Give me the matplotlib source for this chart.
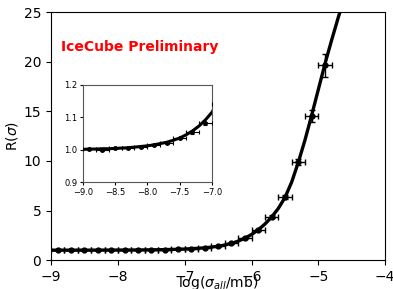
import matplotlib
matplotlib.use("Agg")
import matplotlib.pyplot as plt

# measured points
data_x = [-8.9, -8.7, -8.5, -8.3, -8.1, -7.9, -7.7, -7.5, -7.3, -7.1, -6.9,
          -6.7, -6.5, -6.3, -6.1, -5.9, -5.7, -5.5, -5.3, -5.1, -4.9]
data_r = [1.002, 0.999, 1.004, 1.004, 1.008, 1.015, 1.022, 1.035, 1.054, 1.082, 1.14,
          1.22, 1.40, 1.70, 2.22, 3.00, 4.37, 6.38, 9.90, 14.5, 19.66]
data_xerr = [0.1] * len(data_x)
data_rerr = [0.002, 0.002, 0.002, 0.002, 0.002, 0.003, 0.003, 0.003, 0.004, 0.005, 0.01,
             0.02, 0.03, 0.05, 0.08, 0.1, 0.15, 0.2, 0.3, 0.6, 1.15]

# model curve
curve_x = [-9.0, -8.9, -8.8, -8.7, -8.6, -8.5, -8.4, -8.3, -8.2, -8.1, -8.0,
           -7.9, -7.8, -7.7, -7.6, -7.5, -7.4, -7.3, -7.2, -7.1, -7.0,
           -6.9, -6.8, -6.7, -6.6, -6.5, -6.4, -6.3, -6.2, -6.1, -6.0,
           -5.9, -5.8, -5.7, -5.6, -5.5, -5.4, -5.3, -5.2, -5.1, -5.0,
           -4.9, -4.8, -4.7, -4.6]
curve_r = [1.001, 1.002, 1.002, 1.003, 1.003, 1.004, 1.005, 1.006, 1.008, 1.010, 1.012,
           1.015, 1.019, 1.023, 1.029, 1.036, 1.046, 1.058, 1.073, 1.092, 1.115,
           1.15, 1.19, 1.24, 1.31, 1.40, 1.52, 1.69, 1.91, 2.20, 2.58,
           3.05, 3.63, 4.33, 5.20, 6.30, 7.85, 9.85, 12.1, 14.6, 17.2,
           19.8, 22.2, 24.5, 26.7]


def draw(ax, ms, lw_line, lw_err, cap):
    ax.plot(curve_x, curve_r, color="k", lw=lw_line, zorder=2)
    ax.errorbar(data_x, data_r, xerr=data_xerr, yerr=data_rerr, fmt="o", color="k",
                ms=ms, elinewidth=lw_err, capsize=cap, capthick=lw_err, zorder=3)


fig = plt.figure(figsize=(3.93, 2.89), dpi=100)
ax = fig.add_axes([0.130, 0.100, 0.850, 0.858])
draw(ax, 3.5, 2.4, 1.0, 2)
ax.set_xlim(-9, -4)
ax.set_ylim(0, 25)
ax.set_xticks([-9, -8, -7, -6, -5, -4])
ax.set_yticks([0, 5, 10, 15, 20, 25])
ax.tick_params(labelsize=10)
ax.set_xlabel(r"log($\sigma_{all}$/mb)", fontsize=10, labelpad=-7)
ax.set_ylabel(r"R($\sigma$)", fontsize=10, labelpad=3)
ax.text(-8.85, 21.5, "IceCube Preliminary", color="red", fontsize=10,
        fontweight="bold", ha="left", va="center")

ins = fig.add_axes([0.211, 0.370, 0.328, 0.336])
draw(ins, 2.5, 2.2, 0.8, 1.5)
ins.set_xlim(-9, -7)
ins.set_ylim(0.9, 1.2)
ins.set_xticks([-9.0, -8.5, -8.0, -7.5, -7.0])
ins.set_yticks([0.9, 1.0, 1.1, 1.2])
ins.tick_params(labelsize=6, length=2.5, pad=1.5)
for s in ins.spines.values():
    s.set_color("#555555")

fig.savefig("out.png", dpi=100)
